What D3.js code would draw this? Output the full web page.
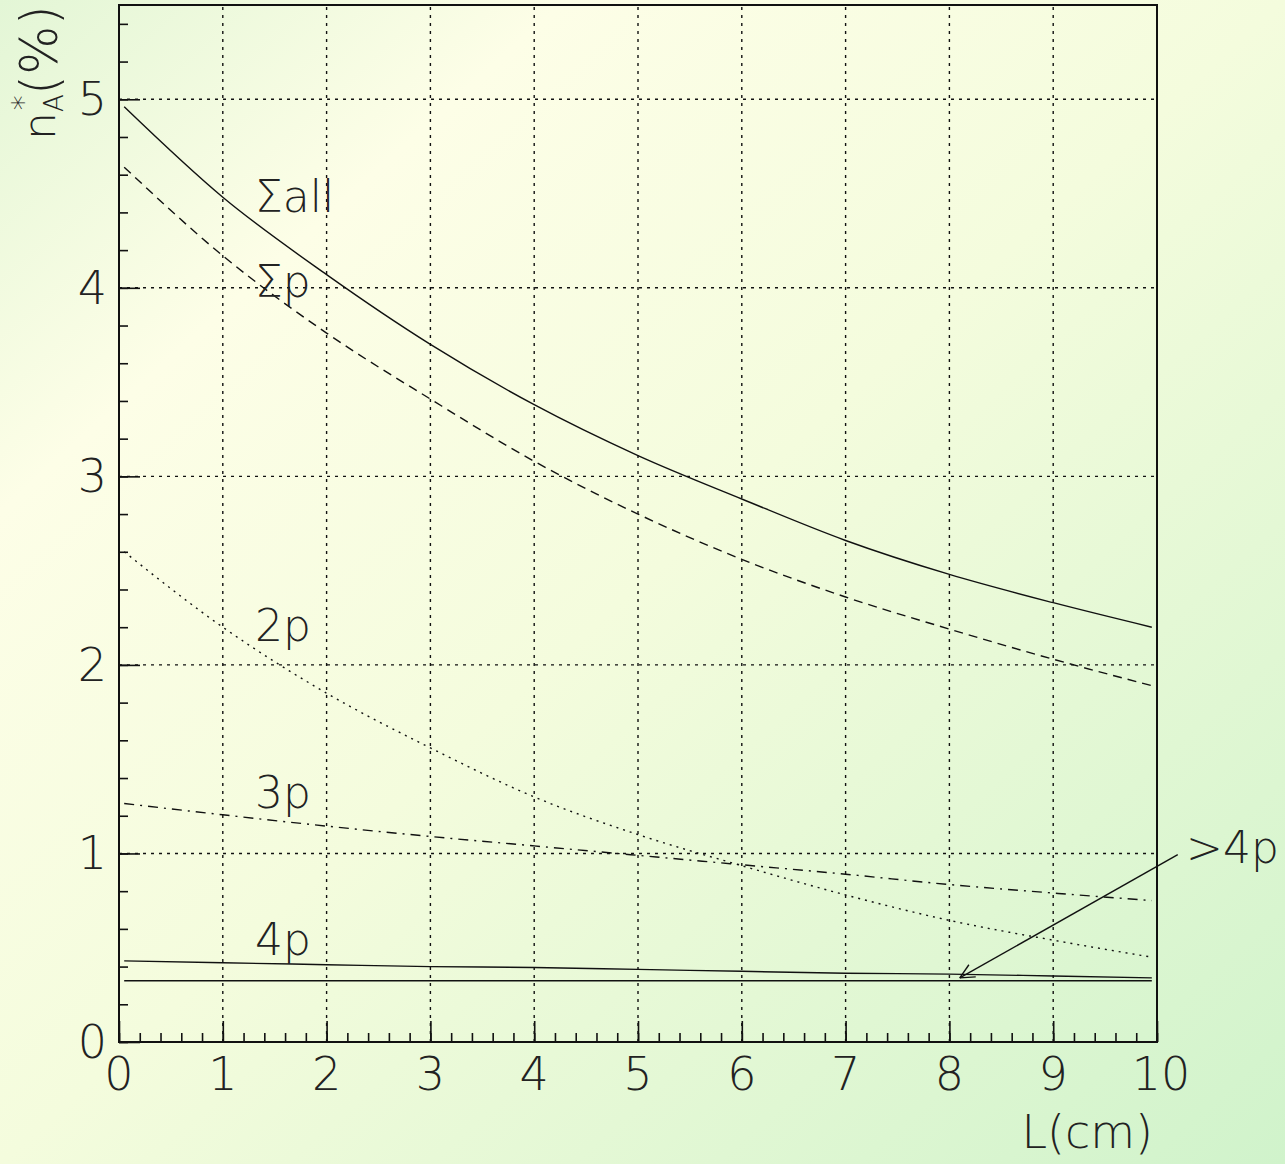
<!DOCTYPE html>
<html>
<head>
<meta charset="utf-8">
<script src="https://cdn.jsdelivr.net/npm/d3@7"></script>
<style>
  body { margin: 0; }
  svg { display: block; }
  text { font-family: "DejaVu Sans", Inter, sans-serif; font-weight: 200; fill: #222; }
</style>
</head>
<body>
<svg id="chart"></svg>
<script>
// thickness L (cm) where the curves were read
const lengths = [0.05, 1, 2, 3, 4, 5, 6, 7, 8, 9, 9.95];

// n_A* (%) per channel
const sumAll = [4.96, 4.48, 4.07, 3.70, 3.38, 3.11, 2.88, 2.66, 2.48, 2.33, 2.20];
const sumP   = [4.64, 4.17, 3.76, 3.41, 3.08, 2.80, 2.56, 2.36, 2.19, 2.03, 1.89];
const twoP   = [2.60, 2.20, 1.85, 1.56, 1.30, 1.10, 0.935, 0.78, 0.645, 0.54, 0.45];
const threeP = [1.265, 1.205, 1.145, 1.09, 1.04, 0.99, 0.94, 0.89, 0.835, 0.79, 0.75];
const fourP  = [0.43, 0.42, 0.41, 0.40, 0.395, 0.385, 0.375, 0.365, 0.36, 0.35, 0.34];
const moreP  = [0.325, 0.325, 0.325, 0.325, 0.325, 0.325, 0.325, 0.325, 0.325, 0.325, 0.325];

const xTicks = [0, 1, 2, 3, 4, 5, 6, 7, 8, 9, 10];
const yTicks = [0, 1, 2, 3, 4, 5];

const W = 1285, H = 1164;
const mLeft = 119, mRight = 1157, mTop = 5, mBottom = 1042;

const svg = d3.select("#chart").attr("width", W).attr("height", H);

// background gradient
const defs = svg.append("defs");
const grad = defs.append("linearGradient")
    .attr("id", "bg")
    .attr("x1", "0%").attr("y1", "0%")
    .attr("x2", "100%").attr("y2", "100%");
grad.append("stop").attr("offset", "0%").attr("stop-color", "#e3f6d6");
grad.append("stop").attr("offset", "22%").attr("stop-color", "#fdfee7");
grad.append("stop").attr("offset", "50%").attr("stop-color", "#f4fcdd");
grad.append("stop").attr("offset", "100%").attr("stop-color", "#d0f3cb");
svg.append("rect").attr("width", W).attr("height", H).attr("fill", "url(#bg)");

const x = d3.scaleLinear().domain([0, 10]).range([mLeft, mRight]);
const y = d3.scaleLinear().domain([0, 5.5]).range([mBottom, mTop]);

// grid
const grid = svg.append("g")
    .attr("stroke", "#111").attr("stroke-width", 1.4).attr("stroke-dasharray", "3,5");
grid.selectAll(".gx").data(xTicks.slice(1, -1)).enter().append("line")
    .attr("x1", d => x(d)).attr("x2", d => x(d))
    .attr("y1", mBottom).attr("y2", mTop);
grid.selectAll(".gy").data(yTicks.slice(1)).enter().append("line")
    .attr("x1", mLeft).attr("x2", mRight)
    .attr("y1", d => y(d)).attr("y2", d => y(d));

// inward tick marks, minor every 0.2
function styleTicks(g) {
  g.select(".domain").remove();
  g.selectAll("line").attr("stroke", "#111").attr("stroke-width", 1.6);
}
svg.append("g").attr("transform", `translate(0,${mBottom})`)
    .call(d3.axisTop(x).tickValues(d3.range(0, 10.01, 0.2)).tickSize(9).tickFormat(""))
    .call(styleTicks);
svg.append("g").attr("transform", `translate(0,${mBottom})`)
    .call(d3.axisTop(x).tickValues(xTicks).tickSize(21).tickFormat(""))
    .call(styleTicks);
svg.append("g").attr("transform", `translate(${mLeft},0)`)
    .call(d3.axisRight(y).tickValues(d3.range(0, 5.51, 0.2)).tickSize(9).tickFormat(""))
    .call(styleTicks);
svg.append("g").attr("transform", `translate(${mLeft},0)`)
    .call(d3.axisRight(y).tickValues(yTicks).tickSize(21).tickFormat(""))
    .call(styleTicks);

// frame
svg.append("rect")
    .attr("x", mLeft).attr("y", mTop)
    .attr("width", mRight - mLeft).attr("height", mBottom - mTop)
    .attr("fill", "none").attr("stroke", "#111").attr("stroke-width", 2);

// tick labels
svg.append("g").selectAll("text").data(xTicks).enter().append("text")
    .attr("x", d => x(d) + (d === 10 ? 4 : 0)).attr("y", mBottom + 48)
    .attr("text-anchor", "middle").attr("font-size", 46)
    .text(d => d);
svg.append("g").selectAll("text").data(yTicks).enter().append("text")
    .attr("x", mLeft - 12).attr("y", d => y(d) + 16)
    .attr("text-anchor", "end").attr("font-size", 46)
    .text(d => d);

// curves
const series = [
  { name: "sumAll", values: sumAll, dash: null },
  { name: "sumP",   values: sumP,   dash: "9,6" },
  { name: "twoP",   values: twoP,   dash: "2,5" },
  { name: "threeP", values: threeP, dash: "10,6,2,6" },
  { name: "fourP",  values: fourP,  dash: null },
  { name: "moreP",  values: moreP,  dash: null }
];
const line = d3.line()
    .x((d, i) => x(lengths[i]))
    .y(d => y(d))
    .curve(d3.curveMonotoneX);
svg.append("g").selectAll("path").data(series).enter().append("path")
    .attr("d", d => line(d.values))
    .attr("fill", "none")
    .attr("stroke", "#111")
    .attr("stroke-width", 1.4)
    .attr("stroke-dasharray", d => d.dash);

// curve labels
const labels = [
  { t: "\u03a3all", lx: 1.31, ly: 4.40 },
  { t: "\u03a3p",   lx: 1.31, ly: 3.95 },
  { t: "2p",        lx: 1.31, ly: 2.125 },
  { t: "3p",        lx: 1.31, ly: 1.243 },
  { t: "4p",        lx: 1.31, ly: 0.46 },
  { t: ">4p",       lx: 10.28, ly: 0.95 }
];
svg.append("g").selectAll("text").data(labels).enter().append("text")
    .attr("x", d => x(d.lx)).attr("y", d => y(d.ly))
    .attr("font-size", 44)
    .text(d => d.t);

// arrow from ">4p" to its curve
const ax0 = x(10.2), ay0 = y(0.994), ax1 = x(8.1), ay1 = y(0.34);
svg.append("line")
    .attr("x1", ax0).attr("y1", ay0).attr("x2", ax1).attr("y2", ay1)
    .attr("stroke", "#111").attr("stroke-width", 1.4);
const ang = Math.atan2(ay0 - ay1, ax0 - ax1);
[-0.45, 0.45].forEach(da => {
  svg.append("line")
    .attr("x1", ax1).attr("y1", ay1)
    .attr("x2", ax1 + 16 * Math.cos(ang + da))
    .attr("y2", ay1 + 16 * Math.sin(ang + da))
    .attr("stroke", "#111").attr("stroke-width", 1.4);
});

// axis titles
svg.append("text")
    .attr("x", mRight - 4).attr("y", H - 16)
    .attr("text-anchor", "end").attr("font-size", 46)
    .text("L(cm)");

const yt = svg.append("text")
    .attr("transform", "translate(55,140) rotate(-90)")
    .attr("font-size", 44);
yt.append("tspan").text("n");
yt.append("tspan").attr("font-size", 26).attr("dy", 8).text("A");
yt.append("tspan").attr("font-size", 30).attr("dx", -16).attr("dy", -30).text("*");
yt.append("tspan").attr("font-size", 52).attr("dy", 24).text("(%)");
</script>
</body>
</html>
